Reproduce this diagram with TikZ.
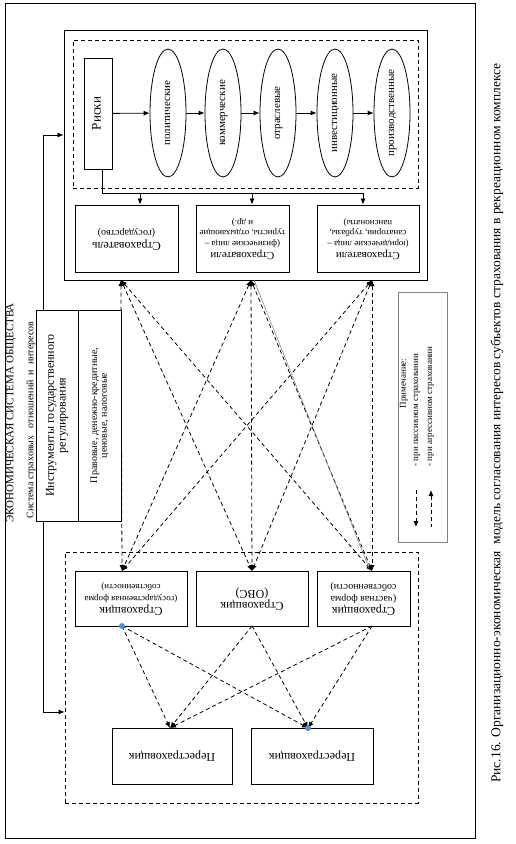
\documentclass[tikz,border=0pt]{standalone}
\usepackage{graphicx}
\usepackage{fontspec}
\setmainfont{Liberation Serif}
\usetikzlibrary{shapes.geometric,arrows.meta}

\tikzset{
  >={Latex[length=6pt,width=5pt]},
  box/.style={draw, line width=0.9pt, inner sep=1pt, fill=white},
  oval/.style={draw, ellipse, line width=0.8pt, minimum width=36pt, minimum height=128pt, inner sep=0pt},
  link/.style={line width=0.8pt, dash pattern=on 4pt off 3pt},
}
\newcommand{\flipped}[1]{\rotatebox{180}{\begin{tabular}{@{}c@{}}#1\end{tabular}}}
\newcommand{\upward}[1]{\rotatebox{90}{\begin{tabular}{@{}c@{}}#1\end{tabular}}}
\newcommand{\fs}[1]{\fontsize{#1}{1.15\dimexpr#1pt\relax}\selectfont}

\begin{document}
\begin{tikzpicture}[x=1pt,y=-1pt]
            \useasboundingbox (0,0) rectangle (516,844);
            \renewcommand{\arraystretch}{0.85}

            % frames of the page
            \draw[line width=0.5pt] (5,3) rectangle (475,838);
            \draw[gray, double, line width=0.4pt, double distance=1.5pt] (17,15) rectangle (461,830);

            \node[rotate=90, font=\fs{11}] (econ) at (11,413) {ЭКОНОМИЧЕСКАЯ СИСТЕМА ОБЩЕСТВА};
            \node[rotate=90, font=\fs{10}] (sys) at (31,420) {Система страховых \ \ отношений \ и \ интересов};

            % upper block: risks and insured parties
            \node[box, minimum width=363pt, minimum height=250pt] (top) at (245.5,155) {};
            \node[draw, line width=0.8pt, dash pattern=on 4pt off 3pt, minimum width=345pt, minimum height=148pt] (riskzone) at (245.5,114) {};

            \node[box, minimum width=28pt, minimum height=111pt, font=\fs{13}] (risk) at (98,113.5) {\upward{Риски}};
            \node[oval, font=\fs{11}] (pol) at (168,113) {\upward{политические}};
            \node[oval, font=\fs{11}] (com) at (223,113) {\upward{коммерческие}};
            \node[oval, font=\fs{11}] (ind) at (278,113) {\upward{отраслевые}};
            \node[oval, font=\fs{11}] (inv) at (335,113) {\upward{инвестиционные}};
            \node[oval, font=\fs{11}] (prod) at (392,113) {\upward{производственные}};

            \draw[->, line width=0.8pt] (risk) -- (pol);
            \draw[->, line width=0.8pt] (pol) -- (com);
            \draw[->, line width=0.8pt] (com) -- (ind);
            \draw[->, line width=0.8pt] (ind) -- (inv);
            \draw[->, line width=0.8pt] (inv) -- (prod);

            \node[box, minimum width=103pt, minimum height=67pt, font=\fs{12}] (ins1) at (126.5,238.5)
                {\flipped{Страхователь\\ {\fs{10}(государство)}}};
            \node[box, minimum width=93pt, minimum height=67pt, font=\fs{11}] (ins2) at (242.5,238.5)
                {\flipped{Страхователи\\ {\fs{9}(физические лица –}\\ {\fs{9}туристы, отдыхающие}\\ {\fs{9}и др.)}}};
            \node[box, minimum width=102pt, minimum height=67pt, font=\fs{11}] (ins3) at (368,238.5)
                {\flipped{Страхователи\\ {\fs{9}(юридические лица –}\\ {\fs{9}санатории, турбазы,}\\ {\fs{9}пансионаты)}}};

            \coordinate (bus0) at (102,193);
            \coordinate (bus1) at (140,193);
            \coordinate (bus2) at (252,193);
            \coordinate (bus3) at (363,193);
            \draw[line width=0.8pt] (risk.south -| bus0) -- (bus0) -- (bus3);
            \draw[->, line width=0.8pt] (bus1) -- (bus1 |- ins1.north);
            \draw[->, line width=0.8pt] (bus2) -- (bus2 |- ins2.north);
            \draw[->, line width=0.8pt] (bus3) -- (bus3 |- ins3.north);

            % lower block: insurers and reinsurers
            \node[draw, line width=0.8pt, dash pattern=on 4pt off 3pt, minimum width=353pt, minimum height=251pt] (low) at (241.5,677.5) {};

            \node[box, minimum width=112pt, minimum height=55pt, font=\fs{12}] (sk1) at (131,598.5)
                {\flipped{Страховщик\\ {\fs{9}(государственная форма}\\ {\fs{9}собственности)}}};
            \node[box, minimum width=112pt, minimum height=55pt, font=\fs{12}] (sk2) at (252,598.5)
                {\flipped{Страховщик\\ (ОВС)}};
            \node[box, minimum width=93pt, minimum height=55pt, font=\fs{12}] (sk3) at (363.5,598.5)
                {\flipped{Страховщик\\ {\fs{10}(частная форма}\\ {\fs{10}собственности)}}};
            \node[box, minimum width=120pt, minimum height=56pt, font=\fs{12}] (re1) at (172,756) {\flipped{Перестраховщик}};
            \node[box, minimum width=122pt, minimum height=56pt, font=\fs{12}] (re2) at (312,756) {\flipped{Перестраховщик}};

            % links between the blocks
            \coordinate (t1) at (121,280);
            \coordinate (t2) at (251,280);
            \coordinate (t3) at (372,280);
            \coordinate (b1) at (122,571);
            \coordinate (b2) at (252,571);
            \coordinate (b3) at (372,571);
            \foreach \a in {1,2,3}
              \foreach \b in {1,2,3}
                \draw[link, <->] (t\a) -- (b\b);
            \draw[gray, line width=0.5pt] (254,280) -- (369,568);

            \coordinate (s1) at (122,626);
            \coordinate (s2) at (252,626);
            \coordinate (s3) at (372,626);
            \coordinate (r1) at (170,728);
            \coordinate (r2) at (308,728);
            \foreach \s in {s1,s2,s3}
              \foreach \r in {r1,r2}
                \draw[link, ->] (\s) -- (\r);
            \fill[cyan!50!blue!70] (s1) circle (3pt);
            \fill[cyan!50!blue!70] (r2) circle (3pt);

            % state regulation
            \coordinate (jt) at (43,135);
            \coordinate (jb) at (43,712);
            \draw[<->, line width=0.8pt] (jt -| top.west) -- (jt) -- (jb) -- (jb -| low.west);
            \node[box, minimum width=43pt, minimum height=211pt, font=\fs{12}] (instA) at (57.5,415.5)
                {\upward{Инструменты государственного\\ регулирования}};
            \node[box, minimum width=43pt, minimum height=211pt, font=\fs{10}] (instB) at (100,415.5)
                {\upward{Правовые, денежно-кредитные,\\ ценовые, налоговые}};

            % note
            \node[draw=gray, line width=0.6pt, minimum width=49pt, minimum height=250pt] (note) at (422.5,417) {};
            \node[rotate=90, anchor=west, font=\fs{9}] (noteh) at (404,412) {Примечание:};
            \node[rotate=90, anchor=west, font=\fs{9}] (pas) at (417,470) {- при пассивном страховании};
            \node[rotate=90, anchor=west, font=\fs{9}] (agr) at (431,470) {- при агрессивном страховании};
            \coordinate (pasA) at (416,490);
            \coordinate (pasB) at (416,527);
            \coordinate (agrA) at (431,490);
            \coordinate (agrB) at (431,527);
            \draw[link, ->] (pasA) -- (pasB);
            \draw[link, <-] (agrA) -- (agrB);

            \node[rotate=90, font=\fs{13.5}] (cap) at (497,423)
                {Рис.16. Организационно-экономическая \ модель согласования интересов субъектов страхования в рекреационном комплексе};
        \end{tikzpicture}
\end{document}
